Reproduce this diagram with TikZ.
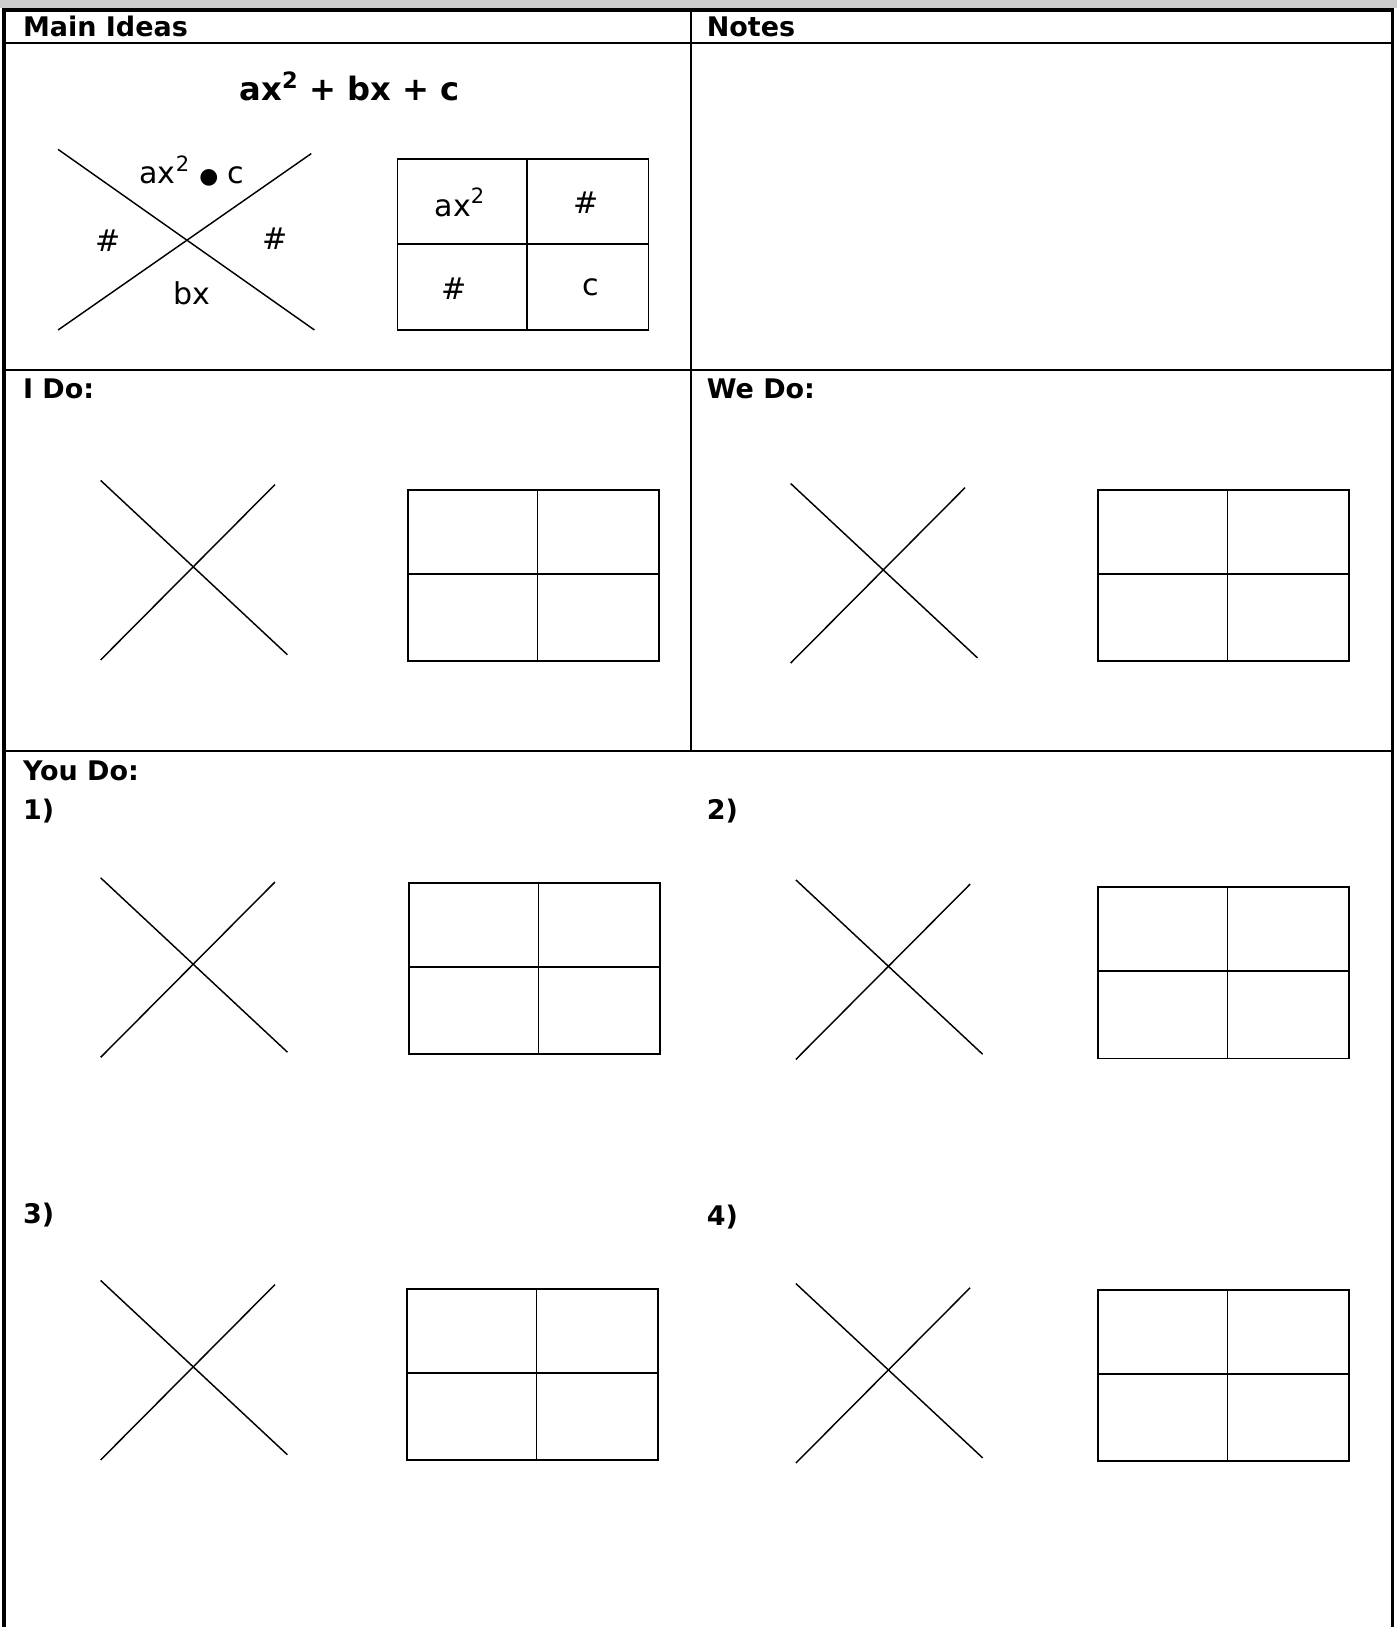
\documentclass[tikz,border=0pt]{standalone}
\usepackage{fontspec}
\setmainfont{DejaVu Sans}
\usepackage{tikz}
\usetikzlibrary{positioning}
\definecolor{stripGray}{HTML}{CCCCCC}

\begin{document}
\begin{tikzpicture}[x=1pt, y=-1pt,
    hdr/.style={anchor=base west, inner sep=0pt, font=\fontsize{26}{30}\selectfont\bfseries},
    lbl/.style={inner sep=0pt, font=\fontsize{29}{34}\selectfont},
    frame/.style={line width=3.5pt},
    rule/.style={line width=2pt},
    xline/.style={line width=1.4pt},
    gridbox/.style={line width=1.5pt}]
  \useasboundingbox (0,0) rectangle (1346,1568);
  % grey strip and outer frame
  \fill[stripGray] (0,0) rectangle (1346,8);
  \coordinate (frTL) at (4,9.5);
  \coordinate (frTR) at (1342,9.5);
  \draw[frame] (frTL |- 0,1568) -- (frTL) -- (frTR) -- (frTR |- 0,1568);
  % table rules
  \foreach \ry in {41,357,724}{
    \draw[rule] (4,\ry) -- (1342,\ry);}
  \coordinate (colTop) at (666,9.5);
  \coordinate (colBot) at (666,724);
  \draw[rule] (colTop) -- (colBot);
  % headings
  \node[hdr] (mainIdeas) at (22,35) {Main Ideas};
  \node[hdr] (notes) at (681,35) {Notes};
  \node[hdr] (iDo) at (22,384) {I Do:};
  \node[hdr] (weDo) at (681,384) {We Do:};
  \node[hdr] (youDo) at (22,752) {You Do:};
  \node[hdr] (prob1) at (22,790) {1)};
  \node[hdr] (prob2) at (681,790) {2)};
  \node[hdr] (prob3) at (22,1179) {3)};
  \node[hdr] (prob4) at (681,1181) {4)};
  % worked template
  \node[anchor=base, inner sep=0pt, font=\fontsize{31}{36}\selectfont\bfseries] (quad) at (337,97)
    {ax\raisebox{3pt}{\textsuperscript{2}} + bx + c};
  \coordinate (mxA) at (56,144);
  \coordinate (mxB) at (303,318);
  \coordinate (mxC) at (56,318);
  \coordinate (mxD) at (300,148);
  \draw[xline] (mxA) -- (mxB);
  \draw[xline] (mxC) -- (mxD);
  \node[lbl] (xTop) at (185,165)
    {ax\raisebox{3pt}{\textsuperscript{2}} {\fontsize{21}{21}\selectfont ●} c};
  \node[lbl] (xLeft) at (104,232) {\#};
  \node[lbl] (xRight) at (265,230) {\#};
  \node[lbl] (xBot) at (185,283) {bx};
  \coordinate (mg) at (383,153);
  \draw[gridbox] (mg) rectangle ++(242,165);
  \draw[gridbox] (mg) ++(125,0) -- ++(0,165);
  \draw[gridbox] (mg) ++(0,82) -- ++(242,0);
  \node[lbl] (gA) at (443,195) {ax\raisebox{3pt}{\textsuperscript{2}}};
  \node[lbl] (gB) at (565,195) {\#};
  \node[lbl] (gC) at (438,278) {\#};
  \node[lbl] (gD) at (569,277) {c};
  % empty practice X's and boxes
  \foreach \n/\xx/\xy/\gx/\gy in {1/97/463/393/472, 2/762/466/1058/472,
      3/97/846/394/851, 4/767/848/1058/855, 5/97/1234/392/1242, 6/767/1237/1058/1243}{
    \coordinate (x\n) at (\xx,\xy);
    \coordinate (g\n) at (\gx,\gy);
    \draw[xline] (x\n) -- ++(180,168);
    \draw[xline] (x\n) ++(0,173) -- ++(168,-169);
    \draw[gridbox] (g\n) rectangle ++(242,165);
    \draw[gridbox] (g\n) ++(125,0) -- ++(0,165);
    \draw[gridbox] (g\n) ++(0,81) -- ++(242,0);}
\end{tikzpicture}
\end{document}
